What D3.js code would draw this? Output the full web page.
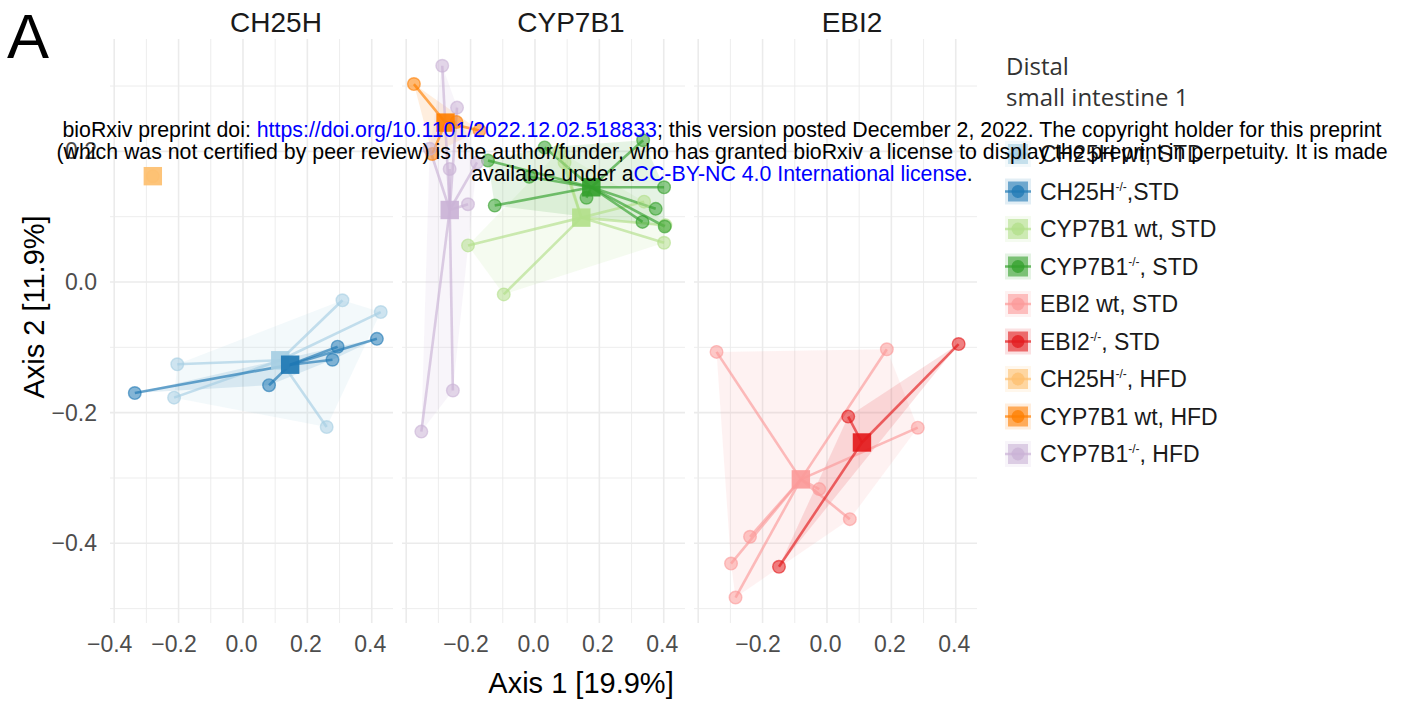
<!DOCTYPE html>
<html>
<head>
<meta charset="utf-8">
<script src="https://cdn.jsdelivr.net/npm/d3@7"></script>
<style>
  body { margin: 0; background: #fff; }
  svg text { font-family: "Liberation Sans", Arial, sans-serif; }
</style>
</head>
<body>
<svg id="chart"></svg>
<script>
const width = 1410;
const height = 704;
const panelLeft = 110;
const panelWidth = 283;
const panelGap = 9;
const panelTop = 39;
const panelBottom = 623;

const panels = ["CH25H", "CYP7B1", "EBI2"];
const panelTitleX = [276, 571, 852];

const groupNames = [
  "CH25H wt, STD", "CH25H-/-,STD", "CYP7B1 wt, STD", "CYP7B1-/-, STD",
  "EBI2 wt, STD", "EBI2-/-, STD", "CH25H-/-, HFD", "CYP7B1 wt, HFD", "CYP7B1-/-, HFD"
];
const groupColors = [
  "#a6cee3", "#1f78b4", "#b2df8a", "#33a02c",
  "#fb9a99", "#e31a1c", "#fdbf6f", "#ff7f00", "#cab2d6"
];
const groupPanels = [
  "CH25H", "CH25H", "CYP7B1", "CYP7B1", "EBI2", "EBI2", "CH25H", "CYP7B1", "CYP7B1"
];

// samples as [Axis 1, Axis 2]
const ch25hWtStd = [[0.309, -0.028], [0.428, -0.046], [-0.204, -0.126], [-0.214, -0.177], [0.260, -0.222]];
const ch25hKoStd = [[-0.336, -0.170], [0.081, -0.158], [0.278, -0.119], [0.294, -0.099], [0.416, -0.087]];
const cyp7b1WtStd = [[-0.208, 0.056], [-0.097, -0.019], [0.401, 0.060], [0.339, 0.123], [0.092, 0.183], [0.405, 0.087], [0.075, 0.200]];
const cyp7b1KoStd = [[-0.146, 0.186], [0.030, 0.206], [0.336, 0.217], [0.401, 0.145], [-0.125, 0.117], [0.160, 0.129], [0.375, 0.112], [0.334, 0.092], [0.403, 0.085], [-0.018, 0.161]];
const ebi2WtStd = [[-0.343, -0.107], [0.186, -0.103], [0.282, -0.223], [-0.024, -0.317], [0.071, -0.363], [-0.239, -0.390], [-0.298, -0.431], [-0.284, -0.483]];
const ebi2KoStd = [[0.409, -0.095], [0.066, -0.206], [-0.149, -0.436]];
const ch25hKoHfd = [[-0.280, 0.162]];
const cyp7b1WtHfd = [[-0.376, 0.303], [-0.319, 0.196], [-0.172, 0.232], [-0.244, 0.245]];
const cyp7b1KoHfd = [[-0.288, 0.331], [-0.242, 0.267], [-0.327, 0.204], [-0.265, 0.173], [-0.180, 0.183], [-0.208, 0.119], [-0.255, -0.166], [-0.353, -0.229]];

const groupSamples = [ch25hWtStd, ch25hKoStd, cyp7b1WtStd, cyp7b1KoStd, ebi2WtStd, ebi2KoStd, ch25hKoHfd, cyp7b1WtHfd, cyp7b1KoHfd];

const xTickValues = [[-0.4, -0.2, 0, 0.2, 0.4], [-0.2, 0, 0.2, 0.4], [-0.2, 0, 0.2, 0.4]];
const yTickValues = [-0.4, -0.2, 0, 0.2];

const svg = d3.select("#chart").attr("width", width).attr("height", height);

const xScale = d3.scaleLinear().domain([-0.413, 0.466]).range([0, panelWidth]);
const yScale = d3.scaleLinear().domain([-0.522, 0.372]).range([panelBottom, panelTop]);
const fmt = d3.format(".1f");
const isMajor = (v) => Math.abs(Math.round(v * 10)) % 2 === 0;

const groups = groupNames.map((name, i) => ({
  name,
  color: groupColors[i],
  panel: groupPanels[i],
  samples: groupSamples[i],
  cx: d3.mean(groupSamples[i], (d) => d[0]),
  cy: d3.mean(groupSamples[i], (d) => d[1]),
}));

panels.forEach((p, pi) => {
  const g = svg.append("g")
    .attr("transform", `translate(${panelLeft + pi * (panelWidth + panelGap)}, 0)`);

  // grid
  g.selectAll(".hgrid").data(yScale.ticks(10)).join("line")
    .attr("x1", 0).attr("x2", panelWidth)
    .attr("y1", (d) => yScale(d)).attr("y2", (d) => yScale(d))
    .attr("stroke", "#ebebeb").attr("stroke-width", (d) => isMajor(d) ? 1.6 : 0.9);
  g.selectAll(".vgrid").data(xScale.ticks(10)).join("line")
    .attr("x1", (d) => xScale(d)).attr("x2", (d) => xScale(d))
    .attr("y1", panelTop).attr("y2", panelBottom)
    .attr("stroke", "#ebebeb").attr("stroke-width", (d) => isMajor(d) ? 1.6 : 0.9);

  const gs = groups.filter((d) => d.panel === p);

  // hulls
  gs.forEach((grp) => {
    if (grp.samples.length < 3) return;
    const hull = d3.polygonHull(grp.samples.map((d) => [xScale(d[0]), yScale(d[1])]));
    g.append("path")
      .attr("d", "M" + hull.join("L") + "Z")
      .attr("fill", grp.color).attr("fill-opacity", 0.13);
  });
  // spokes
  gs.forEach((grp) => {
    g.selectAll(null).data(grp.samples).join("line")
      .attr("x1", xScale(grp.cx)).attr("y1", yScale(grp.cy))
      .attr("x2", (d) => xScale(d[0])).attr("y2", (d) => yScale(d[1]))
      .attr("stroke", grp.color).attr("stroke-opacity", 0.65).attr("stroke-width", 2.6);
  });
  // points
  gs.forEach((grp) => {
    g.selectAll(null).data(grp.samples).join("circle")
      .attr("cx", (d) => xScale(d[0])).attr("cy", (d) => yScale(d[1]))
      .attr("r", 6.3)
      .attr("fill", grp.color).attr("fill-opacity", 0.55)
      .attr("stroke", grp.color).attr("stroke-opacity", 0.6).attr("stroke-width", 1.4);
  });
  // centroids
  gs.forEach((grp) => {
    g.append("rect")
      .attr("x", xScale(grp.cx) - 9.2).attr("y", yScale(grp.cy) - 9.2)
      .attr("width", 18.4).attr("height", 18.4)
      .attr("fill", grp.color).attr("fill-opacity", 0.92);
  });

  // x axis
  const ax = g.append("g")
    .attr("transform", `translate(0, ${628})`)
    .call(d3.axisBottom(xScale).tickValues(xTickValues[pi]).tickSize(0).tickPadding(8).tickFormat(fmt));
  ax.select(".domain").remove();
  ax.selectAll("text").attr("font-size", 23).attr("fill", "#4d4d4d")
    .attr("font-family", "Liberation Sans, Arial, sans-serif")
    .attr("dx", (d) => d < 0 ? -5 : -2);

  // strip title
  svg.append("text")
    .attr("x", panelTitleX[pi]).attr("y", 32)
    .attr("text-anchor", "middle").attr("font-size", 28).attr("fill", "#1a1a1a")
    .text(p);
});

// y axis
const ay = svg.append("g")
  .attr("transform", "translate(97, 0)")
  .call(d3.axisLeft(yScale).tickValues(yTickValues).tickSize(0).tickPadding(0).tickFormat(fmt));
ay.select(".domain").remove();
ay.selectAll("text").attr("font-size", 23).attr("fill", "#4d4d4d")
  .attr("font-family", "Liberation Sans, Arial, sans-serif");

// axis titles
svg.append("text")
  .attr("x", 581).attr("y", 693).attr("text-anchor", "middle")
  .attr("font-size", 29).attr("fill", "#000").text("Axis 1 [19.9%]");
svg.append("text")
  .attr("transform", "translate(44, 307) rotate(-90)").attr("text-anchor", "middle")
  .attr("font-size", 29).attr("fill", "#000").text("Axis 2 [11.9%]");

// panel letter
svg.append("text").attr("x", 7).attr("y", 58).attr("font-size", 63).attr("fill", "#000").text("A");

// legend
const legend = svg.append("g");
legend.append("text").attr("x", 1006).attr("y", 75)
  .style("font-family", "'Open Sans', sans-serif").attr("font-size", 24).attr("fill", "#333")
  .text("Distal");
legend.append("text").attr("x", 1006).attr("y", 106)
  .style("font-family", "'Open Sans', sans-serif").attr("font-size", 24).attr("fill", "#333")
  .text("small intestine 1");

groups.forEach((grp, i) => {
  const cy = 154 + i * 37.5;
  const key = legend.append("g").attr("transform", `translate(1005, ${cy - 13})`);
  key.append("rect").attr("width", 26).attr("height", 26)
    .attr("fill", grp.color).attr("fill-opacity", 0.13);
  key.append("rect").attr("x", 3).attr("y", 3).attr("width", 20).attr("height", 20)
    .attr("fill", grp.color).attr("fill-opacity", 0.6);
  key.append("line").attr("x1", 0).attr("x2", 26).attr("y1", 13).attr("y2", 13)
    .attr("stroke", grp.color).attr("stroke-opacity", 0.7).attr("stroke-width", 2.5);
  key.append("circle").attr("cx", 13).attr("cy", 13).attr("r", 6.5)
    .attr("fill", grp.color).attr("fill-opacity", 0.75);

  const t = legend.append("text").attr("x", 1040).attr("y", cy + 8)
    .attr("font-size", 23).attr("fill", "#1a1a1a");
  const parts = grp.name.split("-/-");
  t.append("tspan").text(parts[0]);
  if (parts.length > 1) {
    t.append("tspan").attr("font-size", 12).attr("dy", -9).text("-/-");
    t.append("tspan").attr("dy", 9).text(parts[1]);
  }
});

// preprint header overlay, sized so the second line spans its width in the source
const note = svg.append("g").attr("fill", "#000").attr("text-anchor", "middle");
const l1 = note.append("text").attr("x", 722).attr("y", 137);
l1.append("tspan").text("bioRxiv preprint doi: ");
l1.append("tspan").attr("fill", "#0000ff").text("https://doi.org/10.1101/2022.12.02.518833");
l1.append("tspan").text("; this version posted December 2, 2022. The copyright holder for this preprint");
const l2 = note.append("text").attr("x", 722).attr("y", 159)
  .text("(which was not certified by peer review) is the author/funder, who has granted bioRxiv a license to display the preprint in perpetuity. It is made");
const l3 = note.append("text").attr("x", 722).attr("y", 181);
l3.append("tspan").text("available under a");
l3.append("tspan").attr("fill", "#0000ff").text("CC-BY-NC 4.0 International license");
l3.append("tspan").text(".");
note.attr("font-size", 19);
const noteSize = 19 * 1332 / l2.node().getComputedTextLength();
note.attr("font-size", noteSize);
</script>
</body>
</html>
